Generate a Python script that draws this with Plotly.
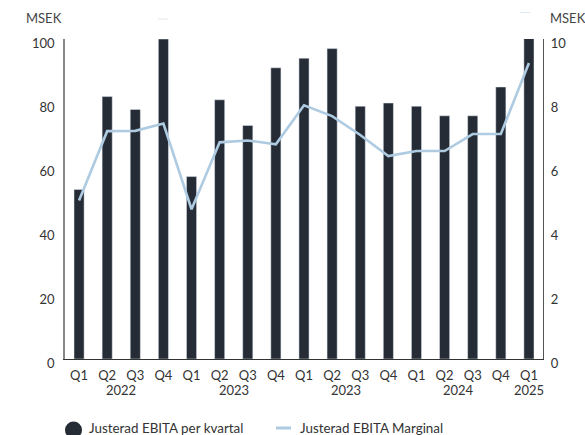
import plotly.graph_objects as go

# Quarterly figures, Q1 2022 .. Q1 2025
quarters = ["Q1", "Q2", "Q3", "Q4", "Q1", "Q2", "Q3", "Q4", "Q1", "Q2", "Q3", "Q4",
            "Q1", "Q2", "Q3", "Q4", "Q1"]
year_labels = ["2022", "2023", "2023", "2024", "2025"]
year_group_sizes = [4, 4, 4, 4, 1]

ebita_msek = [53, 82, 78, 100, 57, 81, 73, 91, 94, 97, 79, 80, 79, 76, 76, 85, 100.5]
ebita_margin = [4.95, 7.12, 7.13, 7.36, 4.68, 6.77, 6.83, 6.71, 7.93, 7.59, 7.0, 6.34,
                6.5, 6.5, 7.03, 7.03, 9.25]

BAR = "#252c35"
LINE = "#aecbe2"
TXT = "#333333"
FONT = "Lato"

x = list(range(len(quarters)))

W, H = 585, 435
L, R, T, B = 65, 42, 39, 76
PW, PH = W - L - R, H - T - B


def px_x(p):
    return (p - L) / PW


def px_y(p):
    return (H - B - p) / PH


fig = go.Figure()
fig.add_trace(go.Bar(x=x, y=ebita_msek, marker_color=BAR, width=0.36,
                     name="Justerad EBITA per kvartal", showlegend=False))
fig.add_trace(go.Scatter(x=x, y=ebita_margin, yaxis="y2", mode="lines",
                         line=dict(color=LINE, width=2.6),
                         name="Justerad EBITA Marginal", showlegend=False))

annotations = []
# year labels under each group of quarters
start = 0
for label, n in zip(year_labels, year_group_sizes):
    center = start + (n - 1) / 2
    annotations.append(dict(x=center, xref="x", y=px_y(390), yref="paper",
                            text=label, showarrow=False, xanchor="center",
                            yanchor="middle",
                            font=dict(family=FONT, size=13, color=TXT)))
    start += n

annotations += [
    dict(x=px_x(43.7), y=px_y(17.5), xref="paper", yref="paper", text="MSEK",
         showarrow=False, xanchor="center", yanchor="middle",
         font=dict(family=FONT, size=13, color="#444")),
    dict(x=px_x(567.5), y=px_y(17.5), xref="paper", yref="paper", text="MSEK",
         showarrow=False, xanchor="center", yanchor="middle",
         font=dict(family=FONT, size=13, color="#444")),
    dict(x=px_x(87), y=px_y(428), xref="paper", yref="paper",
         text="Justerad EBITA per kvartal", showarrow=False, xanchor="left",
         yanchor="middle", font=dict(family=FONT, size=13.4, color=TXT)),
    dict(x=px_x(298), y=px_y(428), xref="paper", yref="paper",
         text="Justerad EBITA Marginal", showarrow=False, xanchor="left",
         yanchor="middle", font=dict(family=FONT, size=13.4, color=TXT)),
]

shapes = [
    # legend swatches
    dict(type="circle", xref="paper", yref="paper", xsizemode="pixel", ysizemode="pixel",
         xanchor=px_x(73.5), yanchor=px_y(430), x0=-8.5, x1=8.5, y0=-8.5, y1=8.5,
         fillcolor=BAR, line=dict(width=0)),
    dict(type="line", xref="paper", yref="paper", xsizemode="pixel", ysizemode="pixel",
         xanchor=px_x(283.5), yanchor=px_y(428), x0=-7.5, x1=7.5, y0=0, y1=0,
         line=dict(color=LINE, width=3)),
    # faint header ticks
    dict(type="line", xref="paper", yref="paper", xsizemode="pixel", ysizemode="pixel",
         xanchor=px_x(163), yanchor=px_y(19), x0=-5, x1=5, y0=0, y1=0,
         line=dict(color="#e6e6e6", width=1)),
    dict(type="line", xref="paper", yref="paper", xsizemode="pixel", ysizemode="pixel",
         xanchor=px_x(525), yanchor=px_y(12.5), x0=-5, x1=5, y0=0, y1=0,
         line=dict(color="#dde8f0", width=1)),
]

fig.update_layout(
    width=W, height=H,
    margin=dict(l=L, r=R, t=T, b=B),
    paper_bgcolor="white", plot_bgcolor="white",
    font=dict(family=FONT, size=13, color=TXT),
    showlegend=False,
    xaxis=dict(tickvals=x, ticktext=quarters, range=[-0.5, len(x) - 0.5],
               showgrid=False, zeroline=False, showline=True, linecolor="#333",
               linewidth=1.2, ticks="", ticklabelstandoff=4,
               tickfont=dict(family=FONT, size=13, color=TXT)),
    yaxis=dict(range=[0, 100], tickvals=[0, 20, 40, 60, 80, 100], showgrid=False,
               zeroline=False, showline=True, linecolor="#888", linewidth=1.5,
               ticks="", ticklabelstandoff=6, ticklabelshift=4,
               tickfont=dict(family=FONT, size=13, color=TXT)),
    yaxis2=dict(range=[0, 10], tickvals=[0, 2, 4, 6, 8, 10], overlaying="y",
                side="right", showgrid=False, zeroline=False, showline=True,
                linecolor="#555", linewidth=1.2, ticks="", ticklabelstandoff=4,
                ticklabelshift=4, tickfont=dict(family=FONT, size=13, color=TXT)),
    annotations=annotations,
    shapes=shapes,
)

fig.write_html("out.html")
